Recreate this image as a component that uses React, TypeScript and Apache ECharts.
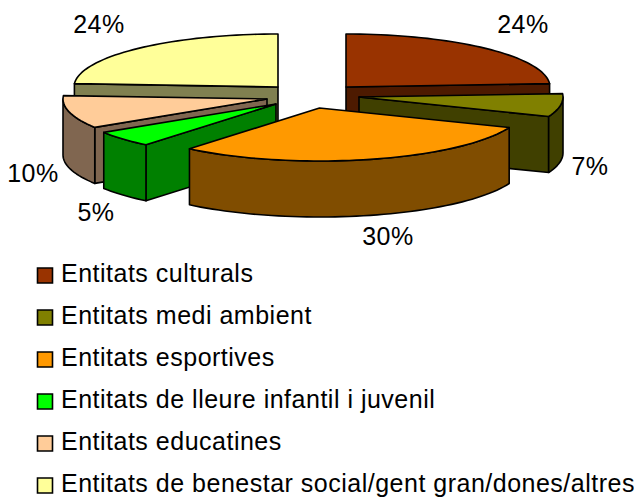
import React, { useEffect, useRef } from "react";
import * as echarts from "echarts";

const categories = [
  "Entitats culturals",
  "Entitats medi ambient",
  "Entitats esportives",
  "Entitats de lleure infantil i juvenil",
  "Entitats educatines",
  "Entitats de benestar social/gent gran/dones/altres",
];
const values = [24, 7, 30, 5, 10, 24];
const topColors = ["#993300", "#808000", "#FF9900", "#00FF00", "#FFCC99", "#FFFF99"];
const sideColors = ["#4D1A00", "#404000", "#804D00", "#008000", "#806650", "#808050"];

// Layout only
const RX = 204;
const RY = 53;
const DEPTH = 56;
const apexes = [[346, 87], [359, 97], [319.5, 108], [276, 104], [267, 99], [278, 87]];
const labelPos = [[523, 24], [590, 166], [388, 236], [96, 212], [33, 173], [99, 24]];
const drawOrder = [0, 5, 4, 1, 3, 2];
const FONT = '"Liberation Sans", Arial, sans-serif';
const LEGEND_LEFT = 37.5;
const LEGEND_TOP = 268;
const LEGEND_PITCH = 42;
const SWATCH = 15;
const LEGEND_TEXT_LEFT = 61;

const total = values.reduce((a, b) => a + b, 0);

function arc(cx: number, cy: number, a0: number, a1: number): number[][] {
  const pts: number[][] = [];
  const n = Math.max(1, Math.ceil((a1 - a0) / 2));
  for (let k = 0; k <= n; k++) {
    const a = ((a0 + ((a1 - a0) * k) / n) * Math.PI) / 180;
    pts.push([cx + RX * Math.sin(a), cy - RY * Math.cos(a)]);
  }
  return pts;
}

function sliceRender(i: number) {
  return () => {
    const before = values.slice(0, i).reduce((a, b) => a + b, 0);
    const a0 = (before / total) * 360;
    const a1 = ((before + values[i]) / total) * 360;
    const [cx, cy] = apexes[i];
    const shape = { fill: sideColors[i], stroke: "#000", lineWidth: 1.6, lineJoin: "round" };
    const children: any[] = [];
    const radial = (a: number) => {
      const p = arc(cx, cy, a, a)[0];
      children.push({
        type: "polygon",
        shape: { points: [[cx, cy], p, [p[0], p[1] + DEPTH], [cx, cy + DEPTH]] },
        style: shape,
      });
    };
    if (a1 < 180) radial(a1);
    if (a0 > 180) radial(a0);
    const w0 = Math.max(a0, 90);
    const w1 = Math.min(a1, 270);
    if (w1 > w0) {
      const up = arc(cx, cy, w0, w1);
      const down = up.map((p) => [p[0], p[1] + DEPTH]).reverse();
      children.push({ type: "polygon", shape: { points: up.concat(down) }, style: shape });
    }
    children.push({
      type: "polygon",
      shape: { points: [[cx, cy], ...arc(cx, cy, a0, a1)] },
      style: { fill: topColors[i], stroke: "#000", lineWidth: 1.6, lineJoin: "round" },
    });
    children.push({
      type: "text",
      style: {
        text: `${values[i]}%`,
        x: labelPos[i][0],
        y: labelPos[i][1],
        fill: "#000",
        font: `25px ${FONT}`,
        align: "center",
        verticalAlign: "middle",
      },
    });
    return { type: "group", children };
  };
}

export default function App() {
  const ref = useRef<HTMLDivElement>(null);
  useEffect(() => {
    document.body.style.margin = "0";
    const chart = echarts.init(ref.current!, undefined, { renderer: "svg" });
    chart.setOption({
      animation: false,
      backgroundColor: "#fff",
      graphic: categories.flatMap((name, i) => [
        {
          type: "rect",
          silent: true,
          shape: { x: LEGEND_LEFT, y: LEGEND_TOP + LEGEND_PITCH * i, width: SWATCH, height: SWATCH },
          style: { fill: topColors[i], stroke: "#000", lineWidth: 1.6 },
        },
        {
          type: "text",
          silent: true,
          style: {
            text: name,
            x: LEGEND_TEXT_LEFT,
            y: LEGEND_TOP + LEGEND_PITCH * i + 5,
            fill: "#000",
            font: `25px ${FONT}`,
            align: "left",
            verticalAlign: "middle",
          },
        },
      ]),
      series: drawOrder.map((i) => ({
        type: "custom",
        name: categories[i],
        coordinateSystem: "none",
        silent: true,
        clip: false,
        itemStyle: { color: topColors[i] },
        data: [[values[i]]],
        renderItem: sliceRender(i),
      })),
    });
    return () => chart.dispose();
  }, []);
  return (
    <>
      <style>{"svg text { letter-spacing: 0.5px; }"}</style>
      <div ref={ref} style={{ width: 634, height: 500 }} />
    </>
  );
}
